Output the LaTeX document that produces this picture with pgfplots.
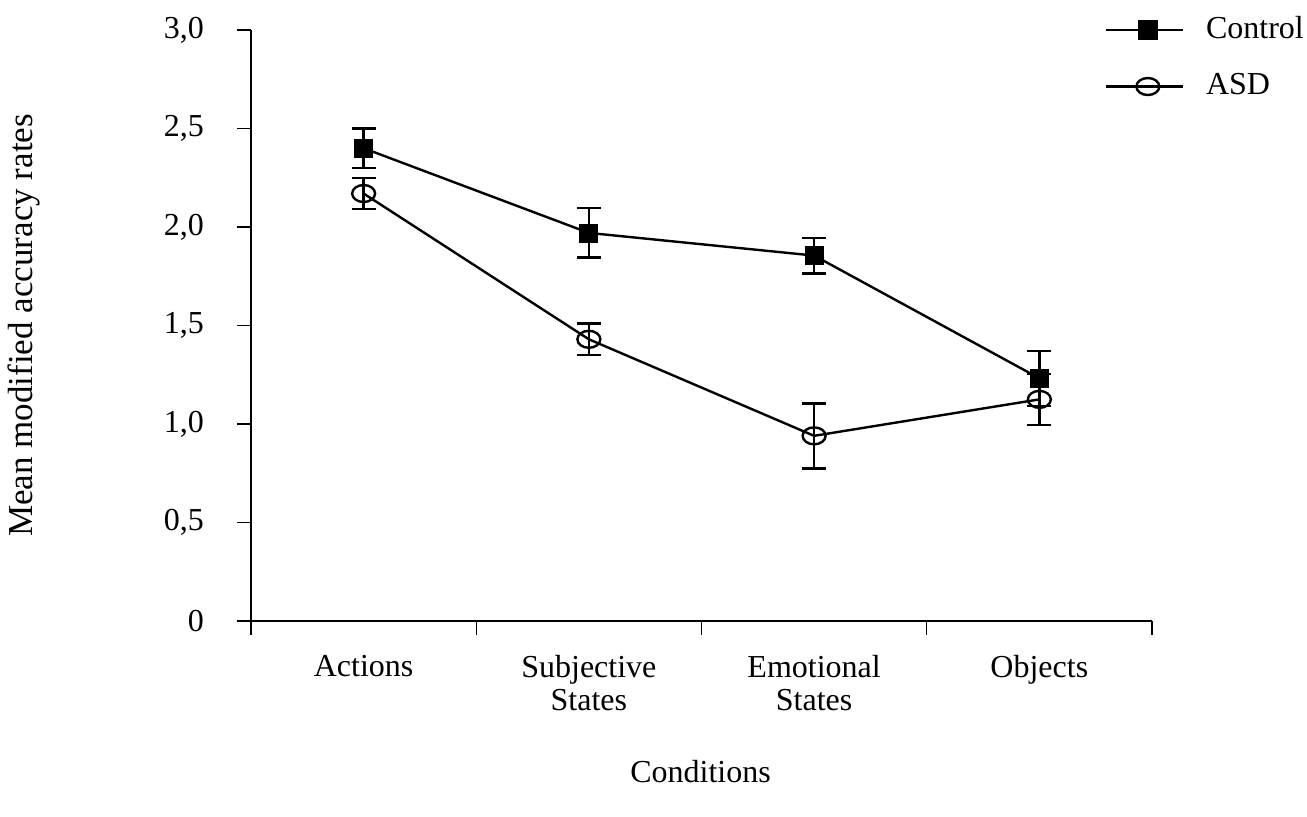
\documentclass[border=0pt]{standalone}
\usepackage{fontspec}
\setmainfont{Liberation Serif}
\usepackage{pgfplots}
\pgfplotsset{compat=1.18}
\begin{document}
\fontsize{16pt}{16.5pt}\selectfont
\begin{tikzpicture}
\path[use as bounding box] (0,0) rectangle (653.5pt,408pt);
\begin{axis}[
  at={(125.5pt,97.5pt)}, anchor=south west,
  scale only axis, width=450.5pt, height=295.5pt,
  xmin=0, xmax=4, ymin=0, ymax=3,
  axis x line*=bottom, axis y line*=left,
  axis line style={black, line width=0.6pt, -},
  every tick/.style={black, line width=0.6pt},
  xtick={0,1,2,3,4}, xticklabels={},
  ytick={0,0.5,1,1.5,2,2.5,3},
  yticklabels={0,{0,5},{1,0},{1,5},{2,0},{2,5},{3,0}},
  tick align=outside, major tick length=7pt,
  yticklabel style={font=\fontsize{16pt}{16.5pt}\selectfont, xshift=-11pt},
  extra x ticks={0.5,1.5,2.5,3.5},
  extra x tick labels={Actions,{Subjective\\States},{Emotional\\States},Objects},
  extra x tick style={major tick length=0pt, tick label style={align=center, anchor=north, inner sep=0pt, yshift=-17pt, font=\fontsize{16pt}{16.5pt}\selectfont}},
  xlabel={Conditions},
  xlabel style={at={(axis description cs:0.499,-0.2555)}, anchor=center, font=\fontsize{16pt}{16.5pt}\selectfont},
  ylabel={Mean modified accuracy rates},
  ylabel style={at={(axis description cs:-0.252,0.5)}, anchor=center, font=\fontsize{17.5pt}{18pt}\selectfont},
  clip=false,
  legend style={draw=none, fill=none, at={(axis description cs:0.947,0.9526)}, anchor=west, row sep=15pt,
    font=\fontsize{16pt}{16.5pt}\selectfont, inner sep=0pt, nodes={inner xsep=11pt, inner ysep=0pt}},
  legend cell align=left,
  legend image code/.code={\draw[mark repeat=2,mark phase=2,#1] plot coordinates {(0pt,0pt) (21pt,0pt) (38.5pt,0pt)};},
]
% legend images
\addlegendimage{black, line width=1.2pt, mark=square*, mark size=4.5pt, mark options={solid, fill=black}}
\addlegendentry{Control}
\addlegendimage{black, line width=1.2pt, mark=o, mark size=4.25pt, mark options={solid, fill=white, xscale=1.35}}
\addlegendentry{ASD}
% Control
\addplot[forget plot, only marks, black, mark=square*, mark size=4.5pt,
  error bars/.cd, y dir=both, y explicit, error bar style={line width=1.2pt, black},
  error mark options={rotate=90, black, mark size=6pt, line width=1.2pt}]
  coordinates {
  (0.5,2.40) +- (0,0.10)
  (1.5,1.97) +- (0,0.125)
  (2.5,1.855) +- (0,0.09)
  (3.5,1.232) +- (0,0.14)
};
\addplot[forget plot, black, line width=1.2pt, mark=none] coordinates {
  (0.5,2.40) (1.5,1.97) (2.5,1.855) (3.5,1.232)
};
% ASD
\addplot[forget plot, only marks, black, mark=o, mark size=4.25pt, mark options={fill=white, xscale=1.35, line width=1.2pt},
  error bars/.cd, y dir=both, y explicit, error bar style={line width=1.2pt, black},
  error mark options={rotate=90, black, mark size=6pt, line width=1.2pt}]
  coordinates {
  (0.5,2.17) +- (0,0.08)
  (1.5,1.43) +- (0,0.08)
  (2.5,0.94) +- (0,0.165)
  (3.5,1.125) +- (0,0.13)
};
\addplot[forget plot, black, line width=1.2pt, mark=none] coordinates {
  (0.5,2.17) (1.5,1.43) (2.5,0.94) (3.5,1.125)
};
\end{axis}
\end{tikzpicture}
\end{document}
